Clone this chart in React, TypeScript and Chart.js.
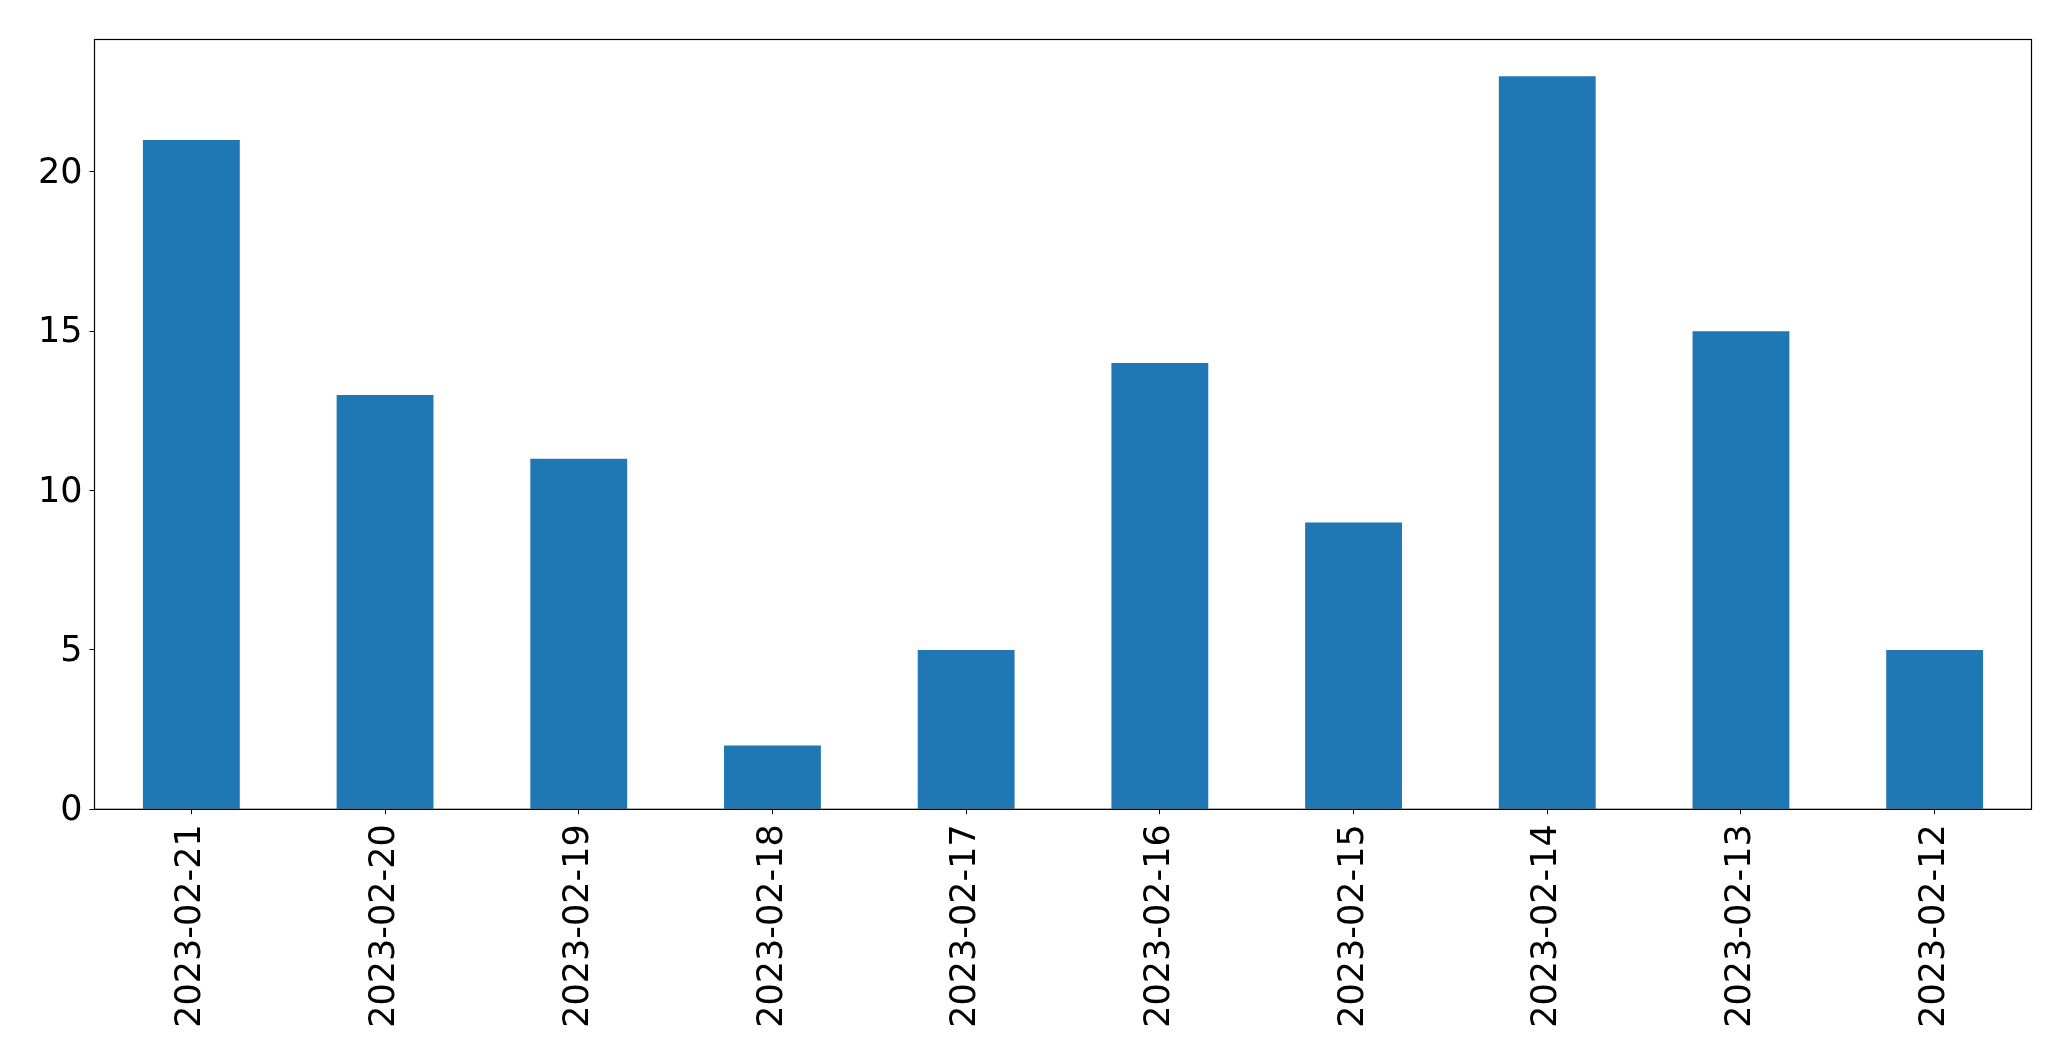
import React, { useEffect, useRef } from "react";
import { Chart, registerables } from "chart.js";

Chart.register(...registerables);

const categories = [
  "2023-02-21", "2023-02-20", "2023-02-19", "2023-02-18", "2023-02-17",
  "2023-02-16", "2023-02-15", "2023-02-14", "2023-02-13", "2023-02-12",
];
const values = [21, 13, 11, 2, 5, 14, 9, 23, 15, 5];
const yTicks = [0, 5, 10, 15, 20];
const yMax = 24.15;

const framePlugin = {
  id: "frame",
  afterDatasetsDraw(chart: any) {
    const { ctx, chartArea } = chart;
    ctx.save();
    ctx.strokeStyle = "#000";
    ctx.lineWidth = 1.2;
    ctx.strokeRect(chartArea.left, chartArea.top, chartArea.right - chartArea.left, chartArea.bottom - chartArea.top);
    ctx.restore();
  },
};

export default function App() {
  const ref = useRef<HTMLCanvasElement>(null);
  useEffect(() => {
    if (!ref.current) return;
    const font = { family: "'DejaVu Sans', sans-serif", size: 35 };
    const chart = new Chart(ref.current, {
      type: "bar",
      data: {
        labels: categories,
        datasets: [
          {
            data: values,
            backgroundColor: "#1f77b4",
            barPercentage: 0.5,
            categoryPercentage: 1,
          },
        ],
      },
      options: {
        animation: false,
        responsive: false,
        devicePixelRatio: 1,
        plugins: { legend: { display: false }, tooltip: { enabled: false } },
        layout: { padding: { top: 39.5, right: 39.5, left: 0, bottom: 0 } },
        scales: {
          x: {
            grid: { display: true, drawOnChartArea: false, drawTicks: true, tickLength: 5, color: "#000", offset: false },
            border: { display: true, color: "#000" },
            ticks: { color: "#000", font, maxRotation: 90, minRotation: 90, padding: 10, autoSkip: false },
            afterFit: (s: any) => { s.height = 1061 - 809.3; },
          },
          y: {
            min: 0,
            max: yMax,
            grid: { display: true, drawOnChartArea: false, drawTicks: true, tickLength: 5, color: "#000" },
            border: { display: true, color: "#000" },
            ticks: { color: "#000", font, stepSize: 5, includeBounds: false, padding: 7, labelOffset: 2 },
            afterBuildTicks: (s: any) => { s.ticks = yTicks.map((v) => ({ value: v })); },
            afterFit: (s: any) => { s.width = 94.5; },
          },
        },
      },
      plugins: [framePlugin],
    } as any);
    return () => chart.destroy();
  }, []);
  return (
    <div style={{ position: "fixed", left: 0, top: 0, width: 2071, height: 1061, background: "#fff" }}>
      <canvas ref={ref} width={2071} height={1061} />
    </div>
  );
}
